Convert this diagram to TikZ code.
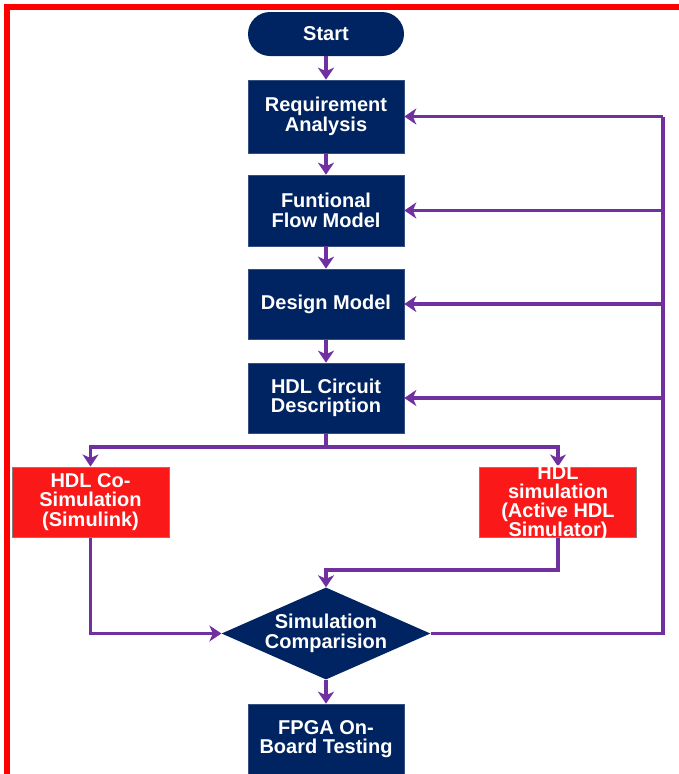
\documentclass[tikz,border=0pt]{standalone}
\usepackage{fontspec}
\setmainfont{Liberation Sans}
\usetikzlibrary{arrows.meta,shapes.geometric}
\definecolor{navy}{RGB}{0,36,98}
\definecolor{flowpurple}{RGB}{112,48,160}
\definecolor{boxred}{RGB}{250,24,24}
\tikzset{
  x=1pt, y=-1pt,
  base/.style={text=white, font=\fontsize{20}{19.5}\selectfont\bfseries, align=center, inner sep=0pt},
  navybox/.style={base, fill=navy, draw=navy!80!white, line width=0.6pt, minimum width=156pt},
  redbox/.style={base, fill=boxred, draw=gray, line width=1pt, minimum width=157pt, minimum height=70pt},
  startshape/.style={base, fill=navy, rounded corners=22pt, minimum width=156pt, minimum height=44pt},
  decision/.style={base, diamond, fill=navy, minimum width=202pt, minimum height=89pt, aspect=2.27},
  conn/.style={draw=flowpurple, line width=3.5pt},
  arr/.style={conn, -{Stealth[length=12pt,width=16pt,inset=3.5pt]}},
}
\begin{document}
\begin{tikzpicture}
\useasboundingbox (0,0) rectangle (679,774);
\begin{scope}
\clip (0,0) rectangle (679,774);
\draw[red, line width=5.5pt] (7,800) -- (7,7) -- (700,7);
\end{scope}

\node[startshape] (start) at (326,34) {Start};
\node[navybox, minimum height=73pt] (req) at (326,116.5) {Requirement\\Analysis};
\node[navybox, minimum height=71pt] (ffm) at (326,210.5) {Funtional\\Flow Model};
\node[navybox, minimum height=70pt] (dm) at (326,304) {Design Model};
\node[navybox, minimum height=70pt] (hdl) at (326,398) {HDL Circuit\\Description};
\node[redbox] (cosim) at (90.5,502) {HDL Co-\\Simulation\\(Simulink)};
\node[redbox] (sim) at (558,502) {};
\node[decision] (cmp) at (326,633.5) {Simulation\\Comparision};
\node[navybox, minimum height=80pt] (fpga) at (326,744) {};
\node[base] (fpgatext) at (326,739) {FPGA On-\\Board Testing};

\coordinate (split) at (326,447);
\coordinate (ret) at (663,633.5);

\draw[arr] (start) -- (req);
\draw[arr] (req) -- (ffm);
\draw[arr] (ffm) -- (dm);
\draw[arr] (dm) -- (hdl);
\draw[conn] (hdl.south) -- (split);
\draw[arr] (split) -| (cosim.north);
\draw[arr] (split) -| (sim.north);
\draw[arr] (cosim.south) |- (cmp.west);
\draw[arr] (sim.south) |- (326,570) -- (cmp.north);
\draw[arr] (cmp) -- (fpga.north);
\draw[conn] (cmp.east) -- (ret) -- (663,116.5);
\draw[arr] (663,116.5) -- (req.east);
\draw[arr] (663,210.5) -- (ffm.east);
\draw[arr] (663,304) -- (dm.east);
\draw[arr] (663,398) -- (hdl.east);

\node[base, font=\fontsize{20}{18.8}\selectfont\bfseries] (simtext) at (558,503) {HDL\\simulation\\(Active HDL\\Simulator)};
\end{tikzpicture}
\end{document}
